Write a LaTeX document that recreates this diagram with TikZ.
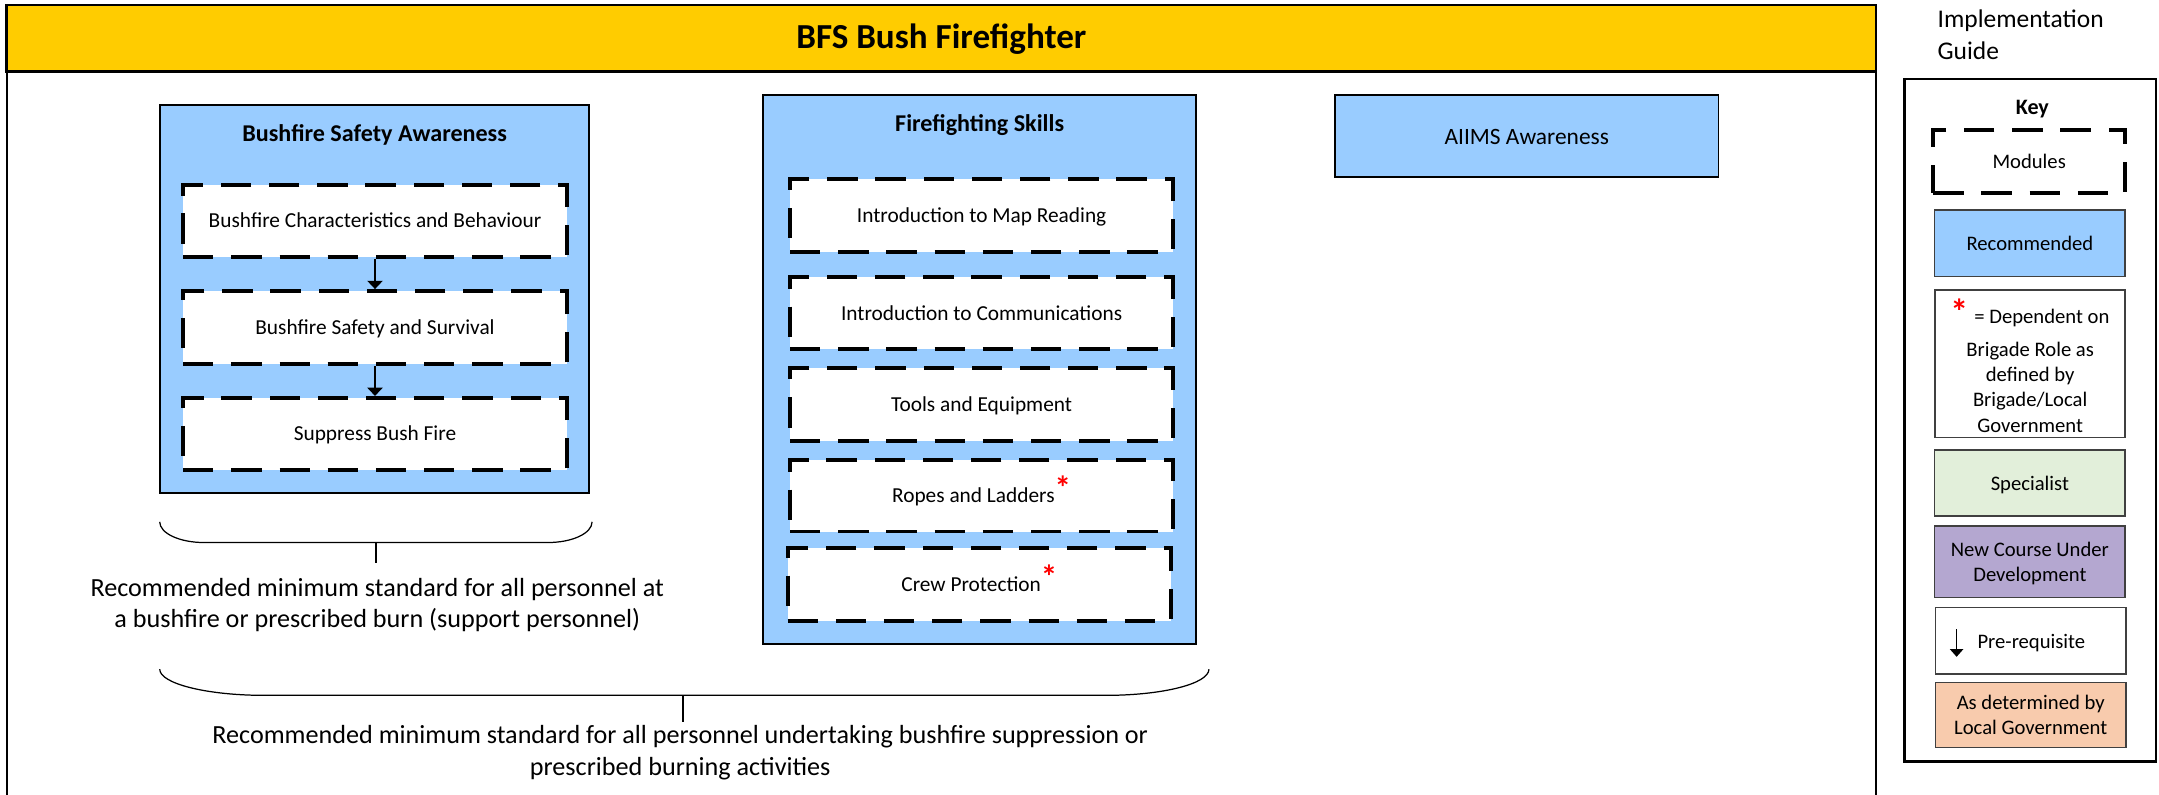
\documentclass[tikz,border=0pt]{standalone}
\usepackage{fontspec}
\setmainfont{Carlito}
\usetikzlibrary{arrows.meta,fit}
\definecolor{hdryellow}{HTML}{FFCC00}
\definecolor{recblue}{HTML}{99CCFF}
\definecolor{specgreen}{HTML}{E2EFDA}
\definecolor{newpurple}{HTML}{B4A7D0}
\definecolor{localorange}{HTML}{F8CBAD}
\definecolor{keyline}{HTML}{404040}
\newcommand{\fs}[2]{\fontsize{#1}{#2}\selectfont}
\newcommand{\redstar}{\raisebox{2pt}{\color{red}\bfseries\fs{24}{24}*}}
\begin{document}
\begin{tikzpicture}[x=1pt,y=-1pt,
  framebox/.style={draw=black, line width=1.4pt},
  headerbox/.style={draw=black, line width=2pt, fill=hdryellow, inner sep=0pt},
  titletext/.style={inner sep=0pt, font=\bfseries\fs{25.5}{30}, text height=18pt, text depth=2.6pt},
  grpbox/.style={draw=black, line width=1.3pt, fill=recblue, inner sep=0pt},
  grptitle/.style={inner sep=0pt, font=\bfseries\fs{17.5}{20}},
  modbox/.style={draw=black, line width=2.9pt, dash pattern=on 22pt off 13pt, fill=white, inner sep=0pt},
  modtext/.style={inner sep=0pt, font=\fs{15.5}{18}, text height=11pt, text depth=1pt},
  plainbox/.style={draw=black, line width=1.3pt, fill=recblue, inner sep=0pt},
  plaintext/.style={inner sep=0pt, font=\fs{17}{20}, text height=13.4pt, text depth=1.1pt},
  prereq/.style={-{Triangle[width=11pt,length=6pt]}, line width=1.3pt},
  bracket/.style={draw=black, line width=0.9pt},
  note/.style={align=center, inner sep=0pt, font=\fs{19}{23}},
  keyframe/.style={draw=black, line width=2pt, inner sep=0pt},
  keybox/.style={draw=keyline, line width=1pt, inner sep=0pt},
  keymod/.style={draw=black, line width=2.9pt, dash pattern=on 22pt off 13pt, inner sep=0pt},
  keytext/.style={inner sep=0pt, font=\fs{15}{18.4}, text height=11.4pt, text depth=1pt},
  keylines/.style={inner sep=0pt, font=\fs{15}{18.4}, align=center},
  star/.style={text=red, inner sep=0pt, font=\bfseries\fs{26}{26}}
]
\useasboundingbox (0,0) rectangle (1568,576.7);

% outer frame and header
\draw[framebox] (4.9,3.6) rectangle (1362.5,580);
\node[headerbox, fit={(4.9,3.6) (1362.5,52)}] (hdr) {};
\node[titletext] (hdrt) at (hdr.center) {BFS Bush Firefighter};

% Bushfire Safety Awareness
\node[grpbox, fit={(116.2,76.3) (428,358)}] (bsa) {};
\node[grptitle, anchor=base] (bsat) at (272.1,103) {Bushfire Safety Awareness};
\node[modbox, fit={(133,134.4) (411.7,186.4)}] (b1) {};
\node[modtext] (b1t) at (b1.center) {Bushfire Characteristics and Behaviour};
\node[modbox, fit={(133,211.4) (411.7,264.4)}] (b2) {};
\node[modtext] (b2t) at (b2.center) {Bushfire Safety and Survival};
\node[modbox, fit={(133,289) (411.7,341.4)}] (b3) {};
\node[modtext] (b3t) at (b3.center) {Suppress Bush Fire};
\draw[prereq] (b1.south) -- (b2.north);
\draw[prereq] (b2.south) -- (b3.north);

% Firefighting Skills
\node[grpbox, fit={(554.3,69) (868.6,467.5)}] (ffs) {};
\node[grptitle, anchor=base] (ffst) at (711.5,95.6) {Firefighting Skills};
\node[modbox, fit={(573.8,130.2) (852,182.8)}] (f1) {};
\node[modtext] (f1t) at (f1.center) {Introduction to Map Reading};
\node[modbox, fit={(573.8,201.4) (852,253.7)}] (f2) {};
\node[modtext] (f2t) at (f2.center) {Introduction to Communications};
\node[modbox, fit={(573.8,267.5) (852,320)}] (f3) {};
\node[modtext] (f3t) at (f3.center) {Tools and Equipment};
\node[modbox, fit={(573.8,334) (852,386)}] (f4) {};
\node[modtext] (f4t) at (f4.center) {Ropes and Ladders\redstar};
\node[modbox, fit={(572,398) (850.5,451)}] (f5) {};
\node[modtext] (f5t) at (f5.center) {Crew Protection\redstar};

% AIIMS
\node[plainbox, fit={(969.6,69) (1248,128.3)}] (aiims) {};
\node[plaintext] (aiimst) at (aiims.center) {AIIMS Awareness};

% brackets
\draw[bracket] (116,379) .. controls (116,387.3) and (130.4,394) .. (148,394) -- (398,394)
  .. controls (415.6,394) and (430,387.3) .. (430,379);
\coordinate (br1top) at (273,394);
\coordinate (br1bot) at (273,409);
\draw[bracket] (br1top) -- (br1bot);
\node[note] (note1) at (274,439.5) {Recommended minimum standard for all personnel at\\a bushfire or prescribed burn (support personnel)};

\draw[bracket] (116,486) .. controls (116,496.5) and (150.2,505) .. (192,505) -- (803,505)
  .. controls (844.8,505) and (878,496.5) .. (878,486);
\coordinate (br2top) at (496,505);
\coordinate (br2bot) at (496,524);
\draw[bracket] (br2top) -- (br2bot);
\node[note] (note2) at (494,546.4) {Recommended minimum standard for all personnel undertaking bushfire suppression or\\prescribed burning activities};

% Implementation guide and key
\node[anchor=base west, inner sep=0pt, font=\fs{18.5}{23}] (guide) at (1407,20) {Implementation};
\node[anchor=base west, inner sep=0pt, font=\fs{18.5}{23}] (guide2) at (1407,43) {Guide};
\node[keyframe, fit={(1383,57.4) (1565.8,553)}] (key) {};
\node[anchor=base, inner sep=0pt, font=\bfseries\fs{16}{19}] (keyt) at (1476,83.5) {Key};
\node[keymod, fit={(1404,94.4) (1543.4,140)}] (kmod) {};
\node[keytext] (kmodt) at (kmod.center) {Modules};
\node[keybox, fill=recblue, fit={(1405,152.5) (1543.4,201)}] (krec) {};
\node[keytext] (krect) at (krec.center) {Recommended};
\node[keybox, fill=white, fit={(1405.4,210.6) (1543.4,317.9)}] (kdep) {};
\node[star, anchor=base] (kstar) at (1423,235.5) {*};
\node[keytext, anchor=base west] (kdep1) at (1433.7,235.3) {= Dependent on};
\node[keylines] (kdep2) at (1474.4,281) {Brigade Role as\\defined by\\Brigade/Local\\Government};
\node[keybox, fill=specgreen, fit={(1405,326.8) (1543.4,374.8)}] (kspec) {};
\node[keytext] (kspect) at (kspec.center) {Specialist};
\node[keybox, fill=newpurple, fit={(1405,382) (1543.4,434)}] (knew) {};
\node[keylines, yshift=-1pt] (knewt) at (knew.center) {New Course Under\\Development};
\node[keybox, fill=white, fit={(1405.6,441) (1544,489.5)}] (kpre) {};
\coordinate (kpa) at (1421,457);
\coordinate (kpb) at (1421,477);
\draw[-{Triangle[width=9.5pt,length=5.5pt]}, line width=1pt] (kpa) -- (kpb);
\node[keytext, anchor=base west] (kpret) at (1436,470.8) {Pre-requisite};
\node[keybox, fill=localorange, fit={(1405.6,495.5) (1544,543)}] (kloc) {};
\node[keylines] (kloct) at (kloc.center) {As determined by\\Local Government};
\end{tikzpicture}
\end{document}
